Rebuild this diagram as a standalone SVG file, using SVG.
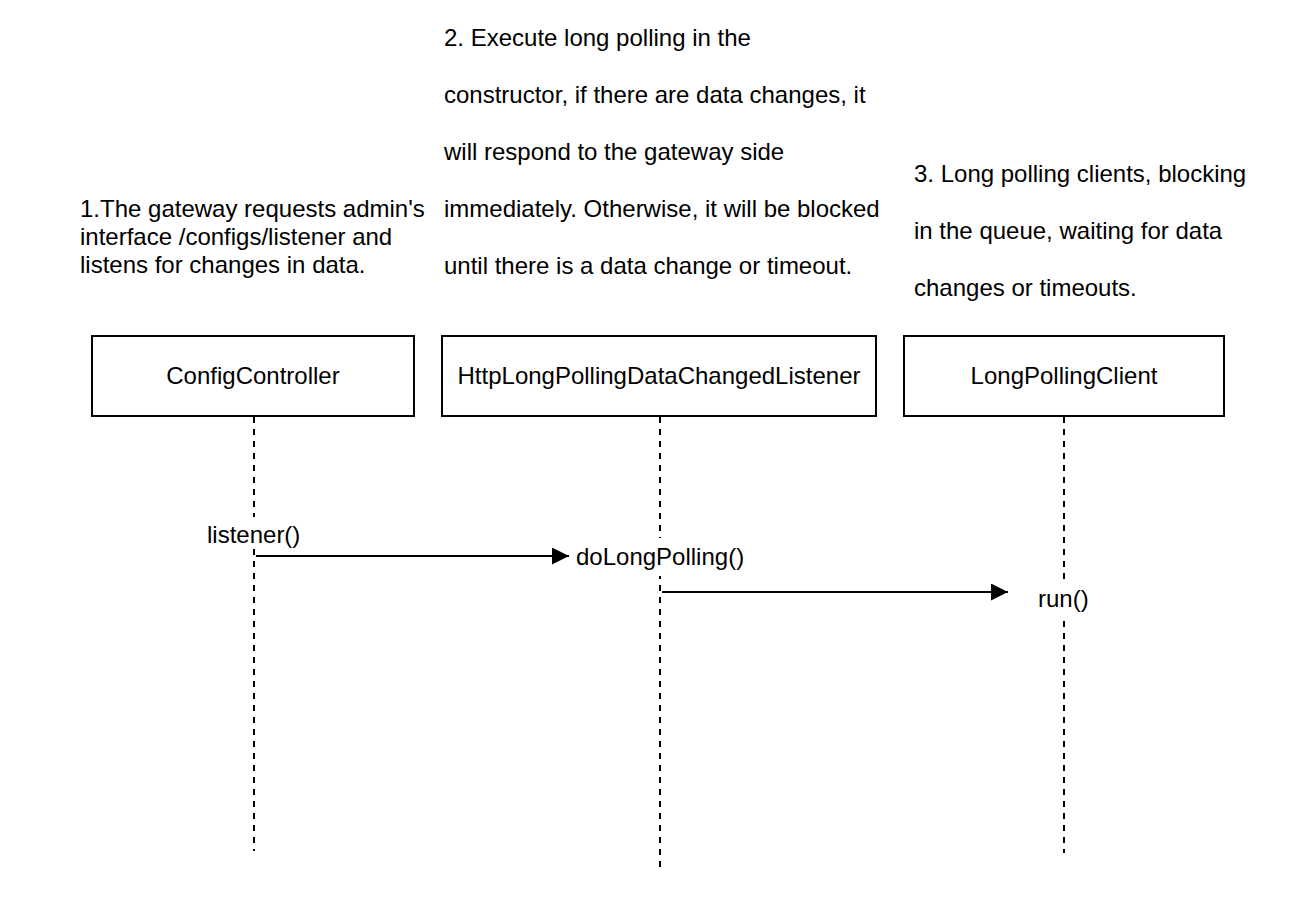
<svg xmlns="http://www.w3.org/2000/svg" width="1313" height="911" viewBox="0 0 1313 911">
<style>
text{font-family:"Liberation Sans",Arial,sans-serif;font-size:24px;fill:#000}
.box{fill:#fff;stroke:#000;stroke-width:2}
.life{stroke:#000;stroke-width:2;stroke-dasharray:6 6;fill:none}
.msg{stroke:#000;stroke-width:2;fill:none}
.lblbg{fill:#fff}
.mid{text-anchor:middle}
</style>
<defs>
<marker id="arr" viewBox="0 0 17 17" refX="17" refY="8.5" markerWidth="17" markerHeight="17" markerUnits="userSpaceOnUse" orient="auto">
<path d="M0,0 L17,8.5 L0,17 Z" fill="#000"/>
</marker>
</defs>
<rect width="1313" height="911" fill="#fff"/>
<g id="note1">
<text x="80" y="217">1.The gateway requests admin's</text>
<text x="80" y="245">interface /configs/listener and</text>
<text x="80" y="273">listens for changes in data.</text>
</g>
<g id="note2">
<text x="444" y="46">2. Execute long polling in the</text>
<text x="444" y="103">constructor, if there are data changes, it</text>
<text x="444" y="160">will respond to the gateway side</text>
<text x="444" y="217">immediately. Otherwise, it will be blocked</text>
<text x="444" y="274">until there is a data change or timeout.</text>
</g>
<g id="note3">
<text x="914" y="182">3. Long polling clients, blocking</text>
<text x="914" y="239">in the queue, waiting for data</text>
<text x="914" y="296">changes or timeouts.</text>
</g>
<g id="configController">
<rect class="box" x="92" y="336" width="322" height="80"/>
<text class="mid" x="253" y="384">ConfigController</text>
<line class="life" x1="254" y1="417" x2="254" y2="851"/>
</g>
<g id="httpLongPollingDataChangedListener">
<rect class="box" x="442" y="336" width="434" height="80"/>
<text class="mid" x="659" y="384">HttpLongPollingDataChangedListener</text>
<line class="life" x1="660" y1="417" x2="660" y2="868"/>
</g>
<g id="longPollingClient">
<rect class="box" x="904" y="336" width="320" height="80"/>
<text class="mid" x="1064" y="384">LongPollingClient</text>
<line class="life" x1="1064" y1="417" x2="1064" y2="853"/>
</g>
<g id="connectors">
<line class="msg" x1="256" y1="556" x2="569" y2="556" marker-end="url(#arr)"/>
<rect class="lblbg" x="205" y="517" width="98" height="31"/>
<text x="207" y="543">listener()</text>
<line class="msg" x1="662" y1="592" x2="1008" y2="592" marker-end="url(#arr)"/>
<rect class="lblbg" x="574" y="538" width="172" height="38"/>
<text x="576" y="565">doLongPolling()</text>
<rect class="lblbg" x="1036" y="581" width="56" height="34"/>
<text x="1038" y="607">run()</text>
</g>
</svg>
